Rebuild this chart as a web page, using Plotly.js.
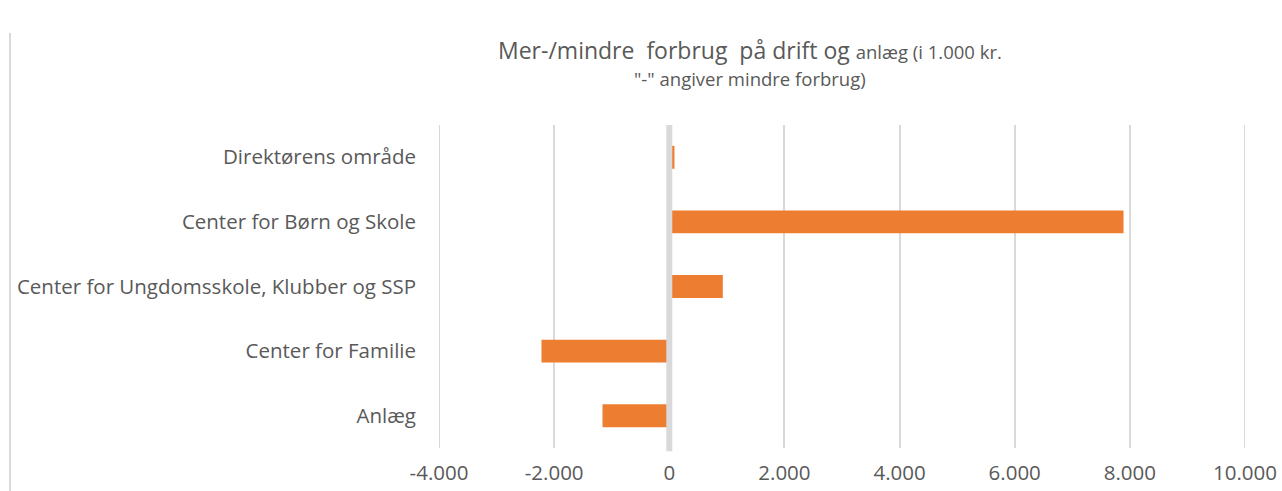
<!DOCTYPE html>
<html>
<head>
<meta charset="utf-8">
<script src="https://cdn.plot.ly/plotly-3.0.1.min.js"></script>
<style>html,body{margin:0;padding:0;background:#fff;}#chart{width:1282px;height:491px;}</style>
</head>
<body>
<div id="chart"></div>
<script>
const categories = ['Direktørens område', 'Center for Børn og Skole', 'Center for Ungdomsskole, Klubber og SSP', 'Center for Familie', 'Anlæg'];
const values = [90, 7890, 930, -2220, -1160];
const tickValues = [-4000, -2000, 0, 2000, 4000, 6000, 8000, 10000];
const tickLabels = ['-4.000', '-2.000', '0', '2.000', '4.000', '6.000', '8.000', '10.000'];
const xRange = [-4000, 10000];
const titleLine1 = 'Mer-/mindre  forbrug  på drift og ';
const titleLine1Small = 'anlæg (i 1.000 kr.';
const titleLine2 = '"-" angiver mindre forbrug)';

const FONT = 'Open Sans, sans-serif';
const TXT = '#595959';
const GRID = '#d9d9d9';
const PT = 125, PB = 448, PL = 439, PR = 1245;
const ph = PB - PT, pw = PR - PL;
const py = px => (PB - px) / ph;
const pxx = px => (px - PL) / pw;

Plotly.newPlot('chart', [{
  type: 'bar',
  orientation: 'h',
  y: categories,
  x: values,
  marker: {color: '#ED7D31', line: {width: 0}},
  hoverinfo: 'skip'
}], {
  width: 1282, height: 491,
  margin: {l: PL, r: 1282 - PR, t: PT, b: 491 - PB, pad: 0},
  paper_bgcolor: '#fff', plot_bgcolor: '#fff',
  bargap: 0.645,
  showlegend: false,
  font: {family: FONT, color: TXT, size: 20},
  annotations: [
    {text: titleLine1 + '<span style="font-size:18.5px">' + titleLine1Small + '</span>', font: {family: FONT, size: 23, color: TXT},
     xref: 'paper', yref: 'paper', x: pxx(750), y: py(50), xanchor: 'center', yanchor: 'middle', showarrow: false},
    {text: titleLine2, font: {family: FONT, size: 18.5, color: TXT},
     xref: 'paper', yref: 'paper', x: pxx(750), y: py(79), xanchor: 'center', yanchor: 'middle', showarrow: false}
  ],
  xaxis: {
    range: xRange,
    tickvals: tickValues, ticktext: tickLabels,
    showgrid: true, gridcolor: GRID, gridwidth: 2,
    zeroline: false, showline: false, ticks: '',
    ticklabelstandoff: 10,
    tickfont: {family: FONT, size: 20.5, color: TXT},
    fixedrange: true
  },
  yaxis: {
    autorange: 'reversed',
    showgrid: false, zeroline: false, showline: false, ticks: '',
    ticklabelstandoff: 22,
    tickfont: {family: FONT, size: 20.5, color: TXT},
    fixedrange: true
  },
  shapes: [
    {type: 'line', xref: 'x', yref: 'paper', x0: xRange[0], x1: xRange[0], y0: 0, y1: 1, line: {color: GRID, width: 2}, layer: 'below'},
    {type: 'line', xref: 'x', yref: 'paper', x0: xRange[1], x1: xRange[1], y0: 0, y1: 1, line: {color: GRID, width: 2}, layer: 'below'},
    {type: 'line', xref: 'x', yref: 'paper', x0: 0, x1: 0, y0: -0.01, y1: 1, line: {color: GRID, width: 6}, layer: 'above'},
    {type: 'line', xref: 'paper', yref: 'paper', x0: pxx(10), x1: pxx(10), y0: py(491), y1: py(33), line: {color: GRID, width: 2}, layer: 'above'}
  ]
}, {displayModeBar: false, staticPlot: true});
</script>
</body>
</html>
